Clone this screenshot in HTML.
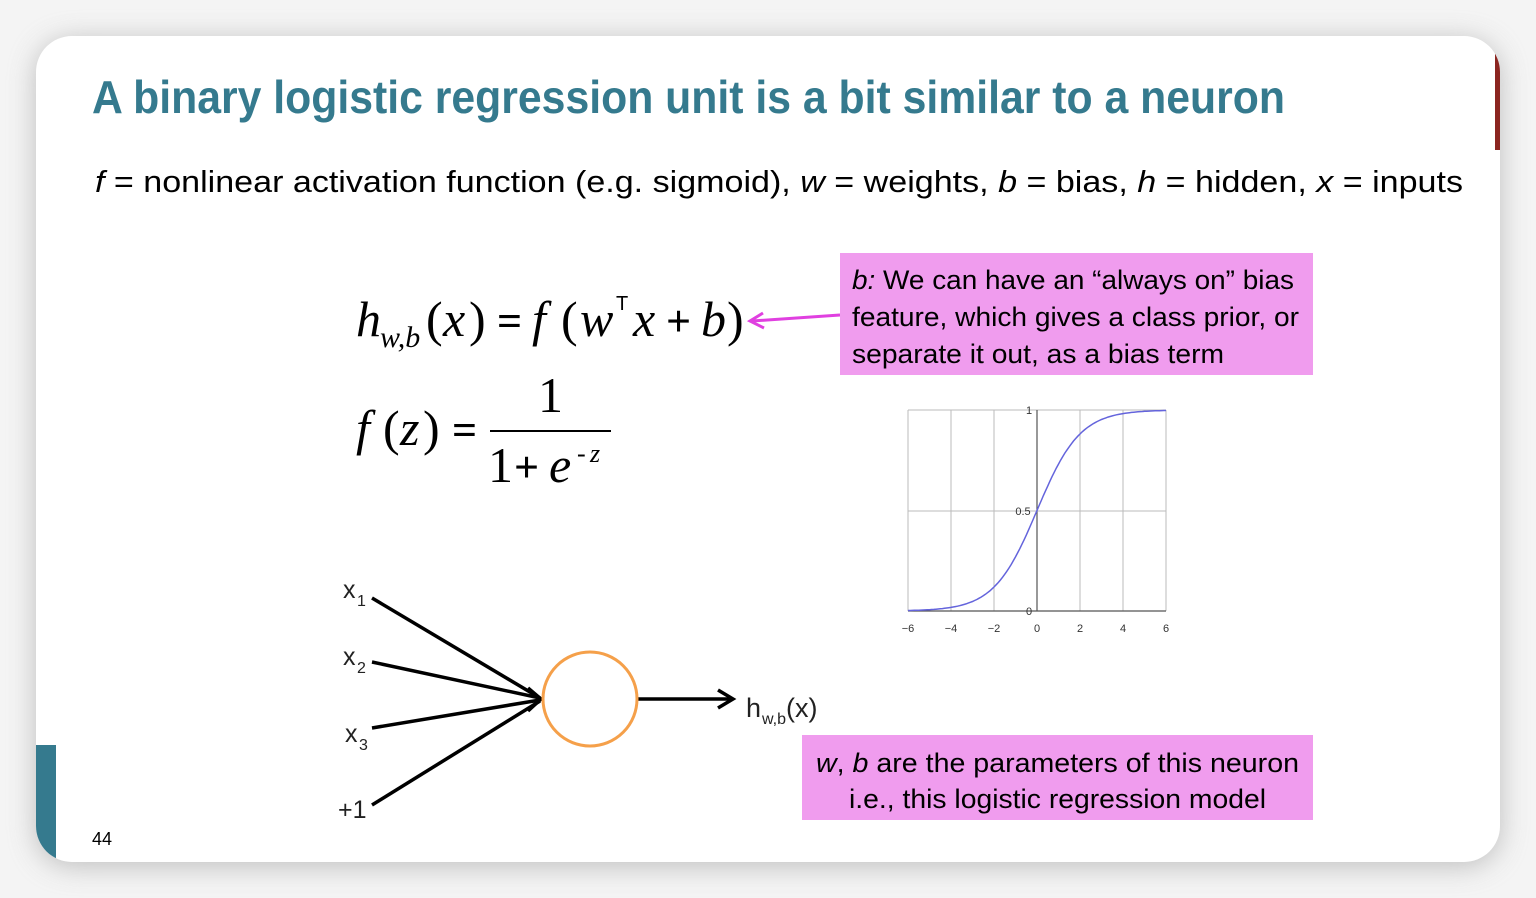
<!DOCTYPE html>
<html><head><meta charset="utf-8"><style>
html,body{margin:0;padding:0;background:#fff;width:1536px;height:898px;overflow:hidden}
</style></head><body>
<svg width="1536" height="898" viewBox="0 0 1536 898" xmlns="http://www.w3.org/2000/svg">
<defs>
<filter id="sh" x="-10%" y="-10%" width="120%" height="120%"><feGaussianBlur stdDeviation="14"/></filter>
<clipPath id="card"><rect x="36" y="36" width="1464" height="826" rx="36"/></clipPath>
</defs>
<rect x="0" y="0" width="1536" height="898" fill="#f4f4f4"/>
<rect x="36" y="40" width="1464" height="826" rx="36" fill="#999" filter="url(#sh)" opacity="0.6"/>
<rect x="36" y="36" width="1464" height="826" rx="36" fill="#fff"/>
<g clip-path="url(#card)">
<rect x="36" y="745" width="20" height="130" fill="#357a8e"/>
<rect x="1495" y="53" width="10" height="97" fill="#8b2520"/>
</g>
<text x="92" y="113" font-family="Liberation Sans, sans-serif" font-weight="bold" font-size="46" fill="#357a8e" textLength="1193" lengthAdjust="spacingAndGlyphs">A binary logistic regression unit is a bit similar to a neuron</text>
<text x="95" y="192" font-family="Liberation Sans, sans-serif" font-size="31" fill="#000" textLength="1368" lengthAdjust="spacingAndGlyphs"><tspan font-style="italic">f</tspan> = nonlinear activation function (e.g. sigmoid), <tspan font-style="italic">w</tspan> = weights, <tspan font-style="italic">b</tspan> = bias, <tspan font-style="italic">h</tspan> = hidden, <tspan font-style="italic">x</tspan> = inputs</text>

<!-- formulas -->
<g font-family="Liberation Serif, serif" font-size="50" fill="#000">
<text x="356" y="336" font-style="italic">h</text>
<text x="380" y="347" font-style="italic" font-size="30">w,b</text>
<text x="426" y="336">(</text>
<text x="443" y="336" font-style="italic">x</text>
<text x="469" y="336">)</text>
<text x="497" y="336" font-weight="bold" font-size="44">=</text>
<text x="532" y="336" font-style="italic">f</text>
<text x="561" y="336">(</text>
<text x="580" y="336" font-style="italic">w</text>
<text x="616" y="310" font-family="Liberation Sans, sans-serif" font-size="20">T</text>
<text x="633" y="336" font-style="italic">x</text>
<text x="666" y="336" font-weight="bold" font-size="44">+</text>
<text x="701" y="336" font-style="italic">b</text>
<text x="727" y="336">)</text>

<text x="356" y="445" font-style="italic">f</text>
<text x="383" y="445">(</text>
<text x="400" y="445" font-style="italic">z</text>
<text x="423" y="445">)</text>
<text x="452" y="445" font-weight="bold" font-size="44">=</text>
<text x="538" y="412">1</text>
<rect x="490" y="430" width="121" height="2"/>
<text x="488" y="482">1</text>
<text x="514" y="482" font-weight="bold" font-size="44">+</text>
<text x="549" y="482" font-style="italic">e</text>
<text x="577" y="462" font-size="26">-</text>
<text x="590" y="462" font-size="26" font-style="italic">z</text>
</g>

<!-- magenta arrow -->
<line x1="840" y1="315" x2="752" y2="321" stroke="#e040e0" stroke-width="3"/>
<polyline points="763,313 750,321 764,328" fill="none" stroke="#e040e0" stroke-width="3"/>

<!-- box 1 -->
<rect x="840" y="253" width="473" height="122" fill="#f09cee"/>
<g font-family="Liberation Sans, sans-serif" font-size="27" fill="#000">
<text x="852" y="289" textLength="442" lengthAdjust="spacingAndGlyphs"><tspan font-style="italic">b:</tspan> We can have an “always on” bias</text>
<text x="852" y="326" textLength="447" lengthAdjust="spacingAndGlyphs">feature, which gives a class prior, or</text>
<text x="852" y="363" textLength="372" lengthAdjust="spacingAndGlyphs">separate it out, as a bias term</text>
</g>

<!-- box 2 -->
<rect x="802" y="735" width="511" height="85" fill="#f09cee"/>
<g font-family="Liberation Sans, sans-serif" font-size="27" fill="#000">
<text x="816" y="772" textLength="483" lengthAdjust="spacingAndGlyphs"><tspan font-style="italic">w</tspan>, <tspan font-style="italic">b</tspan> are the parameters of this neuron</text>
<text x="849" y="808" textLength="417" lengthAdjust="spacingAndGlyphs">i.e., this logistic regression model</text>
</g>

<!-- sigmoid chart -->
<g stroke="#bbb" stroke-width="1">
<line x1="908" y1="410" x2="908" y2="611"/>
<line x1="951" y1="410" x2="951" y2="611"/>
<line x1="994" y1="410" x2="994" y2="611"/>
<line x1="1080" y1="410" x2="1080" y2="611"/>
<line x1="1123" y1="410" x2="1123" y2="611"/>
<line x1="1166" y1="410" x2="1166" y2="611"/>
<line x1="908" y1="410" x2="1166" y2="410"/>
<line x1="908" y1="511" x2="1166" y2="511"/>
</g>
<line x1="1037" y1="410" x2="1037" y2="611" stroke="#555" stroke-width="1.2"/>
<line x1="908" y1="611" x2="1166" y2="611" stroke="#555" stroke-width="1.2"/>
<polyline id="sig" fill="none" stroke="#6464dc" stroke-width="1.5" points=""/>
<g font-family="Liberation Sans, sans-serif" font-size="11" fill="#333" text-anchor="middle">
<text x="908" y="632">−6</text><text x="951" y="632">−4</text><text x="994" y="632">−2</text>
<text x="1037" y="632">0</text><text x="1080" y="632">2</text><text x="1123" y="632">4</text><text x="1166" y="632">6</text>
<text x="1029" y="414">1</text><text x="1023" y="515">0.5</text><text x="1029" y="615">0</text>
</g>

<!-- neuron -->
<g stroke="#000" stroke-width="3.5" fill="none">
<line x1="372" y1="598" x2="540" y2="698"/>
<line x1="372" y1="662" x2="540" y2="698"/>
<line x1="372" y1="728" x2="540" y2="700"/>
<line x1="372" y1="805" x2="540" y2="701"/>
<polyline points="528,688 541,699 528,711"/>
<line x1="638" y1="699" x2="732" y2="699"/>
<polyline points="718,690 733,699 718,708"/>
</g>
<circle cx="590" cy="699" r="47" fill="none" stroke="#f5a04a" stroke-width="3"/>
<g font-family="Liberation Sans, sans-serif" font-size="25" fill="#222">
<text x="343" y="598">x</text><text x="357" y="606" font-size="16">1</text>
<text x="343" y="665">x</text><text x="357" y="673" font-size="16">2</text>
<text x="345" y="742">x</text><text x="359" y="750" font-size="16">3</text>
<text x="338" y="818">+1</text>
<text x="746" y="717" font-size="27">h</text><text x="762" y="724" font-size="16">w,b</text><text x="786" y="717" font-size="27">(x)</text>
</g>
<text x="92" y="845" font-family="Liberation Sans, sans-serif" font-size="18" fill="#000">44</text>
</svg>
<script>
var p=[];for(var z=-6;z<=6.001;z+=0.1){p.push((1037+z*21.5).toFixed(1)+','+(611-201/(1+Math.exp(-z))).toFixed(1));}
document.getElementById('sig').setAttribute('points',p.join(' '));
</script>
</body></html>
